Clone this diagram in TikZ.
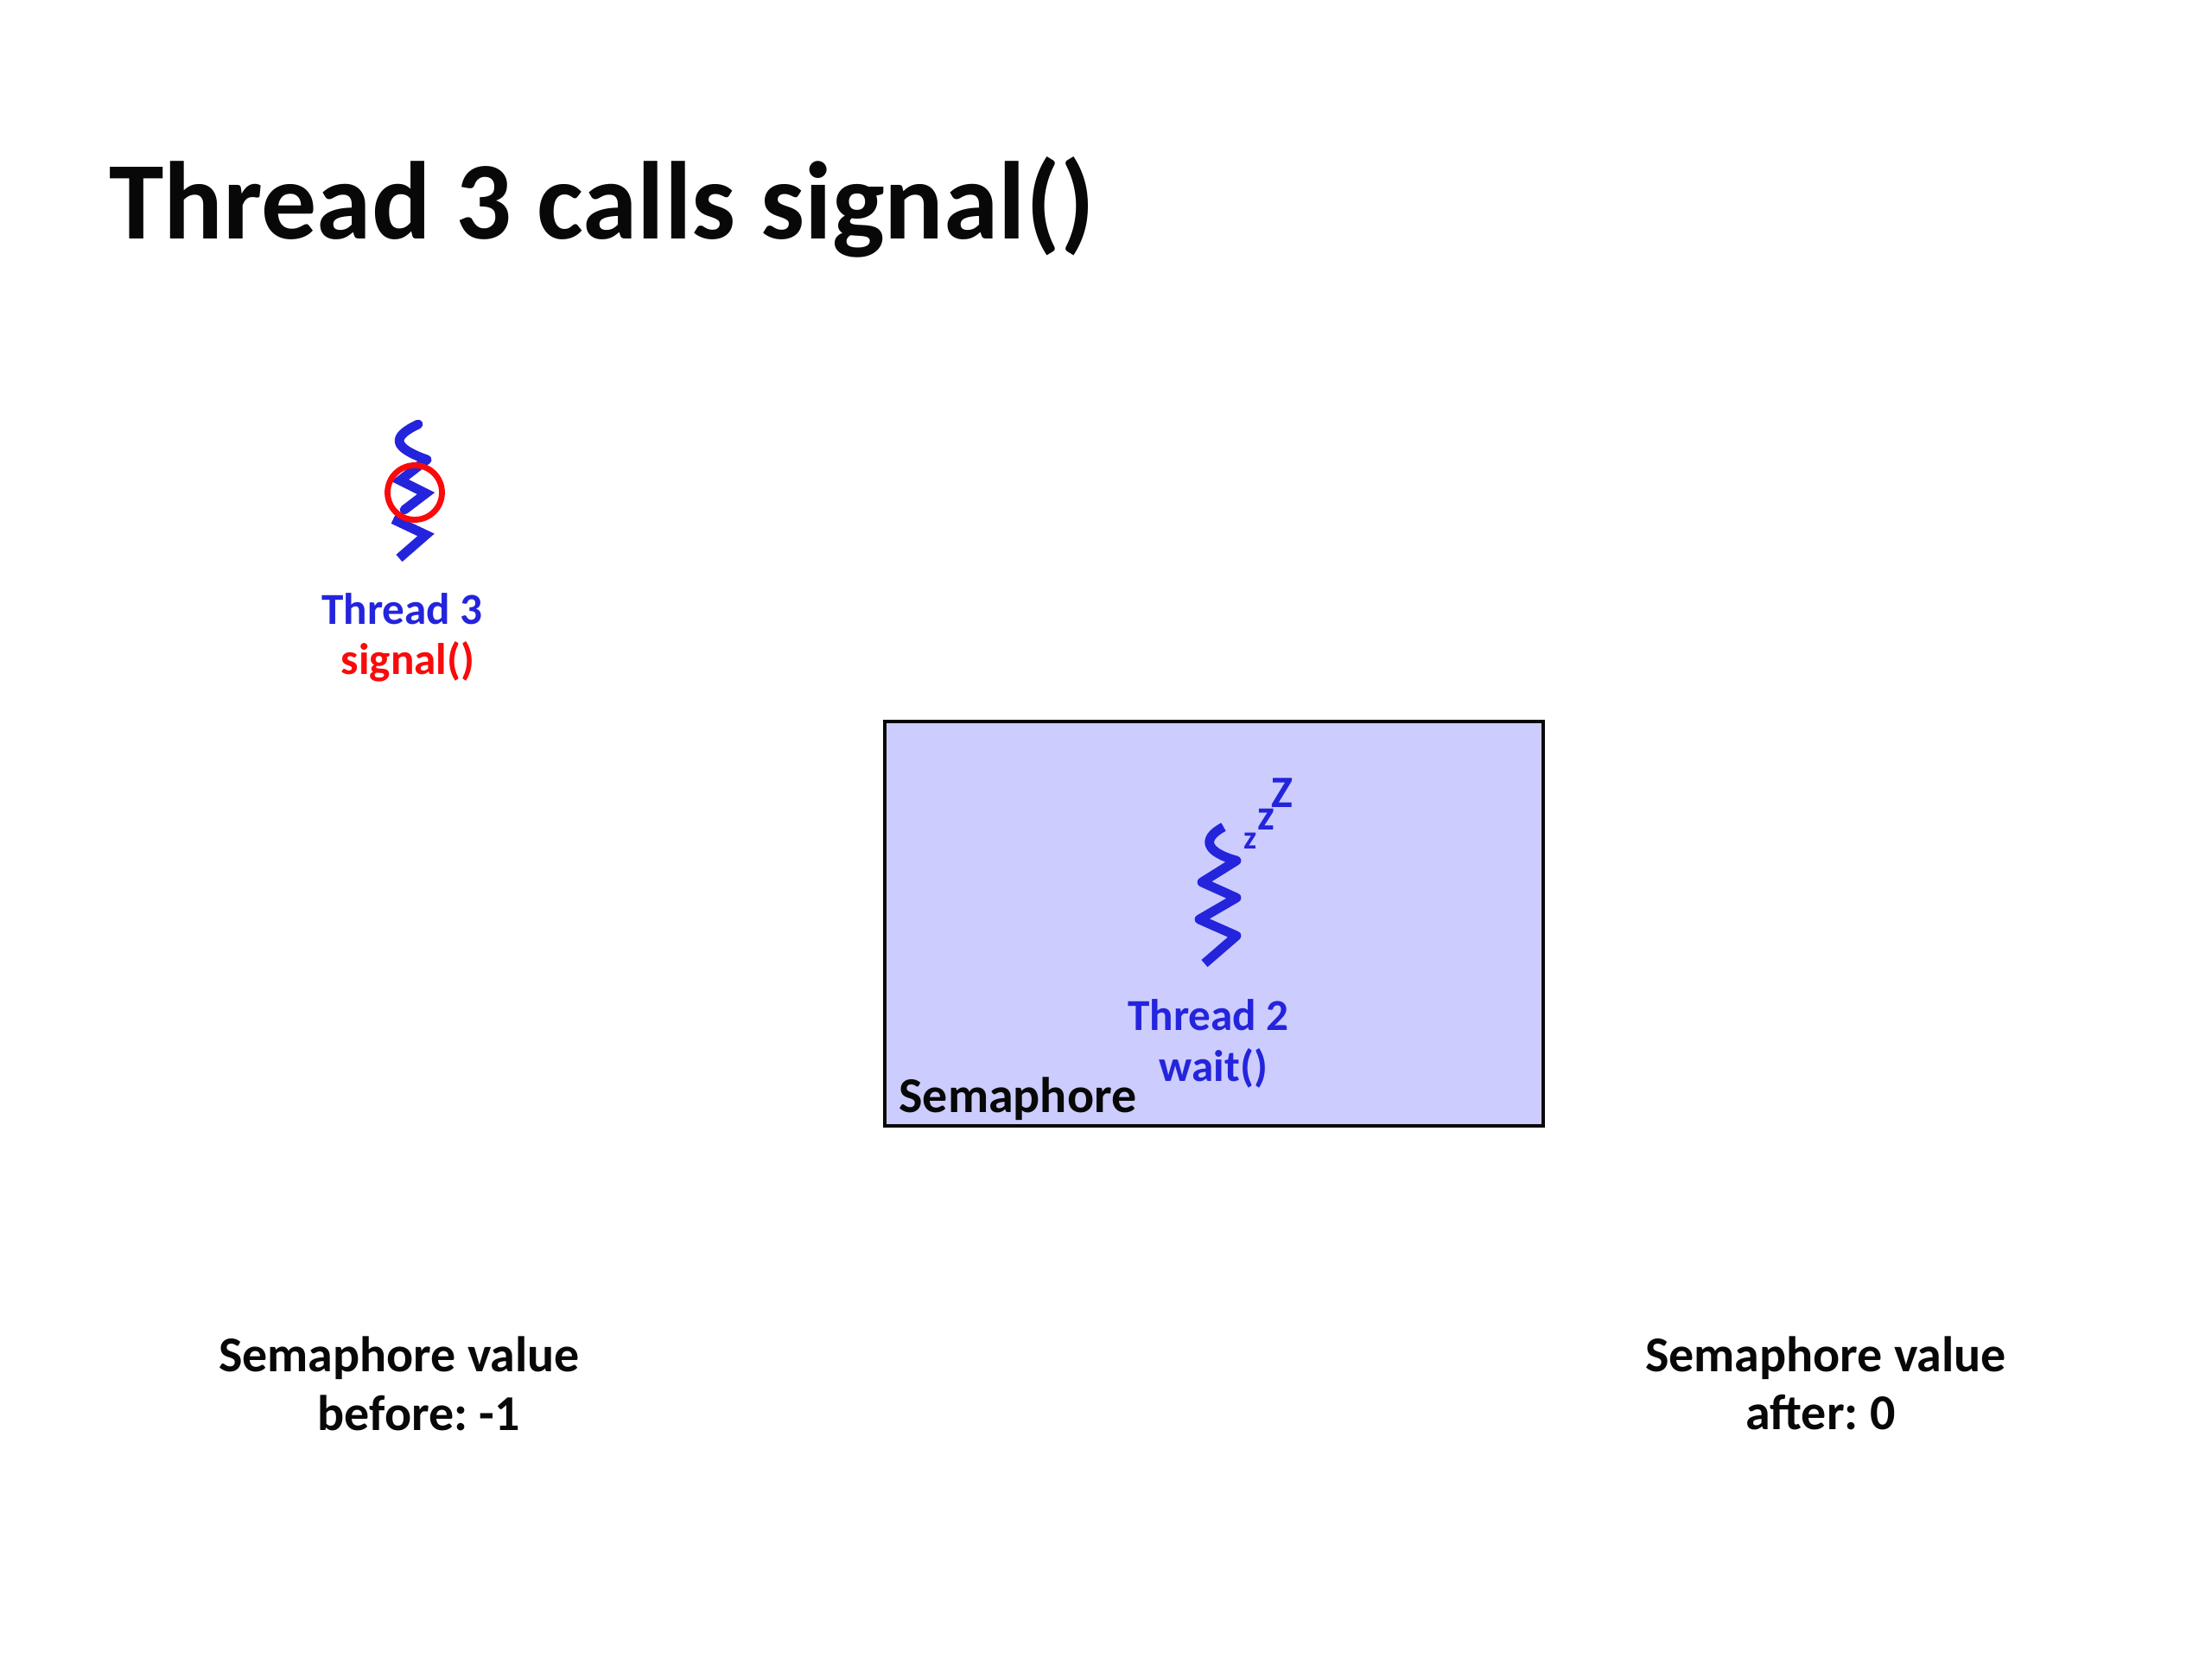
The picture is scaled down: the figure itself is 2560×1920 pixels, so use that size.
\documentclass[tikz,border=0pt]{standalone}
\usepackage{fontspec}
\setmainfont{Carlito}[BoldFont={Carlito Bold}]
\definecolor{thblue}{RGB}{36,36,220}
\definecolor{thred}{RGB}{250,10,10}
\definecolor{semfill}{RGB}{204,204,255}
\definecolor{ink}{RGB}{8,8,8}
\newcommand{\fs}[1]{\fontsize{#1}{#1}\selectfont\bfseries}
\tikzset{
  lbl/.style={inner sep=0pt,anchor=center},
  squig/.style={draw=thblue,line width=5.4pt,line join=miter,line cap=butt},
  squigtop/.style={draw=thblue,line width=5.4pt,line join=round,line cap=round},
}
\begin{document}
\begin{tikzpicture}[x=0.5pt,y=-0.5pt]
\useasboundingbox (0,0) rectangle (2560,1920);
\fill[white] (0,0) rectangle (2560,1920);
% title
\node[inner sep=0pt,anchor=base west,text=ink] (title) at (126,277) {\fs{64}Thread 3 calls signal()};
% thread 3 squiggle
\coordinate (a1) at (484,491);
\coordinate (a2) at (494,532);
\coordinate (a3) at (463,556);
\coordinate (a4) at (493,571);
\coordinate (a5) at (468,590);
\coordinate (a6) at (455,601);
\coordinate (a7) at (493,619);
\coordinate (a8) at (462,646);
\draw[squigtop] (a1) .. controls (452,506) and (455,518) .. (a2);
\draw[squig,line cap=round] (a2) -- (a3) -- (a4) -- (a5);
\draw[squig] (a6) -- (a7) -- (a8);
\node[draw=thred,line width=3.4pt,circle,minimum size=31.5pt,inner sep=0pt] (ring) at (480,570) {};
\node[lbl,text=thblue] (t3) at (465.5,705) {\fs{25.6}Thread 3};
\node[lbl,text=thred] (sig) at (472,766) {\fs{25.6}signal()};
% semaphore box
\node[draw=ink,fill=semfill,line width=2.4pt,minimum width=381pt,minimum height=234pt,inner sep=0pt] (sem) at (1405,1069) {};
% thread 2 squiggle
\coordinate (b1) at (1416,957);
\coordinate (b2) at (1431,996);
\coordinate (b3) at (1391,1021);
\coordinate (b4) at (1431,1039);
\coordinate (b5) at (1388,1064);
\coordinate (b6) at (1431,1083);
\coordinate (b7) at (1394,1115);
\draw[squig,line join=round] (b1) .. controls (1388,972) and (1398,987) .. (b2) -- (b3) -- (b4) -- (b5) -- (b6) -- (b7);
\node[lbl,text=thblue] (zz1) at (1447,973) {\fs{19}z};
\node[lbl,text=thblue] (zz2) at (1465,948) {\fs{25}z};
\node[lbl,text=thblue] (zz3) at (1484,918) {\fs{26}Z};
\node[lbl,text=thblue] (t2) at (1398.5,1174.5) {\fs{25.6}Thread 2};
\node[lbl,text=thblue] (w) at (1404.5,1236) {\fs{25.6}wait()};
\node[inner sep=0pt,anchor=base west,text=ink] (semlbl) at (1040,1287) {\fs{29}Semaphore};
% values
\node[lbl,text=ink] (v1) at (462,1572) {\fs{29}Semaphore value};
\node[lbl,text=ink] (v1b) at (485,1635) {\fs{29}before:\hspace{-2pt} -1};
\node[lbl,text=ink] (v2) at (2113,1572) {\fs{29}Semaphore value};
\node[lbl,text=ink] (v2b) at (2107,1635) {\fs{29}after:\hspace{-2pt} 0};
\end{tikzpicture}
\end{document}
